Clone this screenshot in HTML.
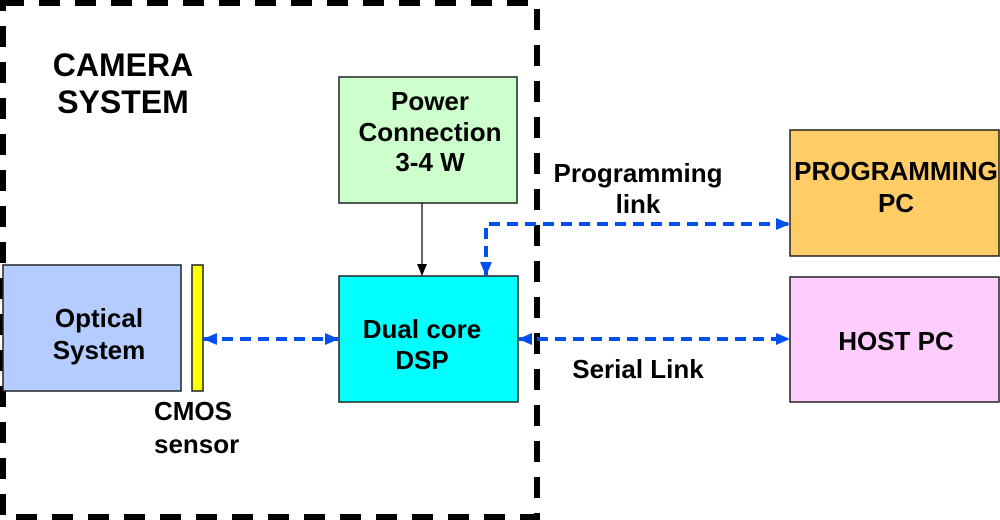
<!DOCTYPE html>
<html><head><meta charset="utf-8"><style>
html,body{margin:0;padding:0;background:#fff;width:1000px;height:520px;overflow:hidden}
text{font-family:"Liberation Sans",Arial,sans-serif;font-weight:bold;fill:#000}
</style></head><body>
<svg width="1000" height="520" viewBox="0 0 1000 520" xmlns="http://www.w3.org/2000/svg">
<defs>
<marker id="bh" markerWidth="14" markerHeight="14" refX="13" refY="7" orient="auto" markerUnits="userSpaceOnUse"><path d="M0,1 L14,7 L0,13 z" fill="#0050f0"/></marker>
<marker id="bt" markerWidth="14" markerHeight="14" refX="1" refY="7" orient="auto" markerUnits="userSpaceOnUse"><path d="M14,1 L0,7 L14,13 z" fill="#0050f0"/></marker>
<marker id="kh" markerWidth="12" markerHeight="12" refX="11" refY="6" orient="auto" markerUnits="userSpaceOnUse"><path d="M0,1 L12,6 L0,11 z" fill="#000"/></marker>
</defs>
<path d="M3,3 H537 V517 H3 Z" fill="none" stroke="#000" stroke-width="6" stroke-dasharray="21,15"/>
<text x="123" y="76" font-size="32" text-anchor="middle">CAMERA</text>
<text x="123" y="113" font-size="32" text-anchor="middle">SYSTEM</text>
<rect x="339" y="77" width="178" height="126" fill="#ccffcc" stroke="#222" stroke-width="1.5"/>
<text x="430" y="110" font-size="26" text-anchor="middle">Power</text>
<text x="430" y="141" font-size="26" text-anchor="middle">Connection</text>
<text x="430" y="171" font-size="26" text-anchor="middle">3-4 W</text>
<rect x="339" y="276" width="179" height="126" fill="#00ffff" stroke="#222" stroke-width="1.5"/>
<text x="422" y="338" font-size="26" text-anchor="middle">Dual core</text>
<text x="422" y="369" font-size="26" text-anchor="middle">DSP</text>
<rect x="3" y="265" width="178" height="126" fill="#b4ccff" stroke="#222" stroke-width="1.5"/>
<text x="99" y="327" font-size="26" text-anchor="middle">Optical</text>
<text x="99" y="359" font-size="26" text-anchor="middle">System</text>
<rect x="192" y="265" width="11" height="126" fill="#ffff00" stroke="#222" stroke-width="1.5"/>
<text x="154" y="420" font-size="26">CMOS</text>
<text x="154" y="453" font-size="26">sensor</text>
<rect x="790" y="130" width="209" height="126" fill="#ffcc66" stroke="#222" stroke-width="1.5"/>
<text x="896" y="180" font-size="26" text-anchor="middle">PROGRAMMING</text>
<text x="896" y="212" font-size="26" text-anchor="middle">PC</text>
<rect x="790" y="277" width="209" height="125" fill="#ffccff" stroke="#222" stroke-width="1.5"/>
<text x="896" y="350" font-size="26" text-anchor="middle">HOST PC</text>
<line x1="422" y1="203" x2="422" y2="275" stroke="#000" stroke-width="1.2" marker-end="url(#kh)"/>
<line x1="204" y1="339" x2="338" y2="339" stroke="#0050f0" stroke-width="4" stroke-dasharray="11,7" marker-start="url(#bt)" marker-end="url(#bh)"/>
<line x1="519" y1="339" x2="789" y2="339" stroke="#0050f0" stroke-width="4" stroke-dasharray="11,7" marker-start="url(#bt)" marker-end="url(#bh)"/>
<path d="M486,275 V224 H789" fill="none" stroke="#0050f0" stroke-width="4" stroke-dasharray="11,7" marker-start="url(#bt)" marker-end="url(#bh)"/>
<text x="638" y="182" font-size="26" text-anchor="middle">Programming</text>
<text x="638" y="213" font-size="26" text-anchor="middle">link</text>
<text x="638" y="378" font-size="26" text-anchor="middle">Serial Link</text>
</svg>
</body></html>
